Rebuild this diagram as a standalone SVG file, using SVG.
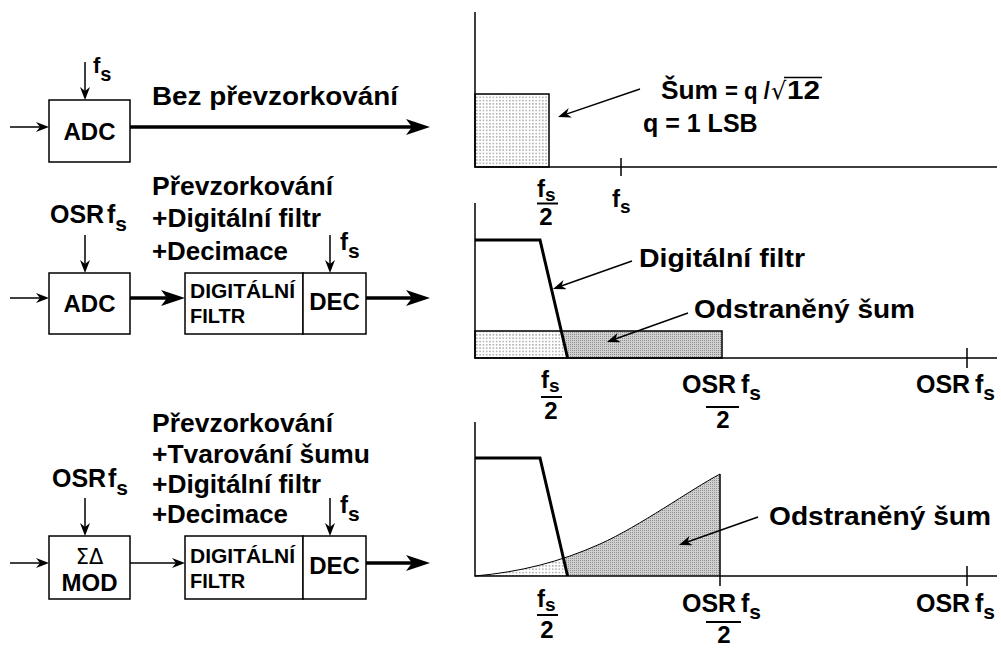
<svg xmlns="http://www.w3.org/2000/svg" width="1001" height="650" viewBox="0 0 1001 650">
<defs>
<style>
.t{font-family:"Liberation Sans",Arial,Helvetica,sans-serif;font-weight:bold;fill:#000}
.b25{font-size:25px}
.b24{font-size:24px}
.b20{font-size:20px}
.mid{text-anchor:middle}
.box{fill:#fff;stroke:#000;stroke-width:1.5}
.ln{stroke:#000;stroke-width:1.5;fill:none}
.th{stroke:#000;stroke-width:3.5;fill:none}
.flt{stroke:#000;stroke-width:3;fill:none}
.ax{stroke:#000;stroke-width:1.5;fill:none}
</style>
<marker id="ah" viewBox="0 0 13 10" refX="5" refY="5" markerWidth="13" markerHeight="10" markerUnits="userSpaceOnUse" orient="auto">
<path d="M0,0 L13,5 L0,10 L4,5 z" fill="#000"/>
</marker>
<marker id="ahb" viewBox="0 0 24 16" refX="8" refY="8" markerWidth="24" markerHeight="16" markerUnits="userSpaceOnUse" orient="auto">
<path d="M0,0 L24,8 L0,16 L6,8 z" fill="#000"/>
</marker>
<pattern id="dots" width="3.3" height="3.3" patternUnits="userSpaceOnUse">
<rect width="3.3" height="3.3" fill="#fff"/>
<rect x="1" y="1" width="1.2" height="1.2" fill="#777"/>
</pattern>
<pattern id="dense" width="2" height="2" patternUnits="userSpaceOnUse">
<rect width="2" height="2" fill="#d0d0d0"/>
<rect width="1" height="1" fill="#909090"/>
</pattern>
<clipPath id="leftMid"><polygon points="470,320 558.7,320 570,368 470,368"/></clipPath>
<clipPath id="leftBot"><polygon points="470,450 538.1,450 570.9,590 470,590"/></clipPath>
</defs>
<rect width="1001" height="650" fill="#fff"/>

<!-- Row 1 -->
<g id="adc1">
<rect class="box" x="49" y="100" width="81" height="62"/>
<text class="t b24 mid" x="89.5" y="140">ADC</text>
</g>
<g id="label-row1">
<text class="t" x="93" y="73" font-size="22">f<tspan font-size="20" dy="8">s</tspan></text>
<text class="t b25" x="152" y="105" textLength="246" lengthAdjust="spacingAndGlyphs">Bez převzorkování</text>
</g>

<!-- Row 2 -->
<g id="adc2">
<rect class="box" x="49" y="273" width="81" height="61"/>
<text class="t b24 mid" x="89.5" y="312">ADC</text>
</g>
<g id="filt2">
<rect class="box" x="185" y="273" width="118" height="61"/>
<text class="t b20" x="190" y="298" textLength="105" lengthAdjust="spacingAndGlyphs">DIGITÁLNÍ</text>
<text class="t b20" x="190" y="323">FILTR</text>
</g>
<g id="dec2">
<rect class="box" x="303" y="273" width="63" height="61"/>
<text class="t b24 mid" x="334.5" y="310">DEC</text>
</g>
<g id="label-row2">
<text class="t b25" x="50" y="223">OSR</text>
<text class="t" x="107" y="223" font-size="25">f<tspan font-size="21" dy="8">s</tspan></text>
<text class="t" x="340" y="250" font-size="24">f<tspan font-size="21" dy="8">s</tspan></text>
<text class="t b25" x="152" y="195" textLength="181" lengthAdjust="spacingAndGlyphs">Převzorkování</text>
<text class="t b25" x="152" y="227" textLength="169" lengthAdjust="spacingAndGlyphs">+Digitální filtr</text>
<text class="t b25" x="152" y="260" textLength="136" lengthAdjust="spacingAndGlyphs">+Decimace</text>
</g>

<!-- Row 3 -->
<g id="mod3">
<rect class="box" x="49" y="536" width="81" height="63"/>
<text x="89.5" y="564" font-family="'DejaVu Sans','Liberation Sans',sans-serif" font-size="21" text-anchor="middle">ΣΔ</text>
<text class="t b24 mid" x="89.5" y="591">MOD</text>
</g>
<g id="filt3">
<rect class="box" x="185" y="536" width="118" height="63"/>
<text class="t b20" x="190" y="563" textLength="105" lengthAdjust="spacingAndGlyphs">DIGITÁLNÍ</text>
<text class="t b20" x="190" y="588">FILTR</text>
</g>
<g id="dec3">
<rect class="box" x="303" y="536" width="63" height="63"/>
<text class="t b24 mid" x="334.5" y="574">DEC</text>
</g>
<g id="label-row3">
<text class="t b25" x="52" y="487">OSR</text>
<text class="t" x="108" y="487" font-size="25">f<tspan font-size="21" dy="8">s</tspan></text>
<text class="t" x="340" y="513" font-size="24">f<tspan font-size="21" dy="8">s</tspan></text>
<text class="t b25" x="152" y="432" textLength="181" lengthAdjust="spacingAndGlyphs">Převzorkování</text>
<text class="t b25" x="152" y="463" textLength="218" lengthAdjust="spacingAndGlyphs">+Tvarování šumu</text>
<text class="t b25" x="152" y="493" textLength="169" lengthAdjust="spacingAndGlyphs">+Digitální filtr</text>
<text class="t b25" x="152" y="523" textLength="136" lengthAdjust="spacingAndGlyphs">+Decimace</text>
</g>

<!-- Chart 1 -->
<g id="chart1">
<rect x="475" y="94" width="74" height="73" fill="url(#dots)" stroke="#000" stroke-width="1.5"/>
<polyline class="ax" points="475,12 475,167 997,167"/>
<line class="ax" x1="621" y1="158" x2="621" y2="176"/>
<text class="t" x="661" y="99" font-size="26" textLength="57" lengthAdjust="spacingAndGlyphs">Šum</text>
<text class="t" x="725" y="99" font-size="23" textLength="45" lengthAdjust="spacingAndGlyphs">= q /</text>
<text x="771" y="99" font-family="'DejaVu Sans','Liberation Sans',sans-serif" font-size="24">√</text>
<line class="ln" x1="784" y1="77.5" x2="822" y2="77.5"/>
<text class="t b25" x="787" y="99" textLength="33" lengthAdjust="spacingAndGlyphs">12</text>
<text class="t b25" x="643" y="132">q = 1 LSB</text>
<text class="t" x="537" y="197" font-size="24">f<tspan font-size="19" dy="4">s</tspan></text>
<line x1="537" y1="203.5" x2="558" y2="203.5" stroke="#000" stroke-width="2"/>
<text class="t mid" x="546" y="225" font-size="24">2</text>
<text class="t" x="612" y="207" font-size="24">f<tspan font-size="19" dy="6">s</tspan></text>
</g>

<!-- Chart 2 -->
<g id="chart2">
<rect x="475" y="331" width="247" height="27" fill="url(#dense)"/>
<rect x="475" y="331" width="247" height="27" fill="url(#dots)" clip-path="url(#leftMid)"/>
<rect x="475" y="331" width="247" height="27" fill="none" stroke="#000" stroke-width="1.5"/>
<polyline class="ax" points="475,203 475,358 997,358"/>
<line class="ax" x1="967" y1="348" x2="967" y2="368"/>
<polyline class="flt" points="475,240 540,240 567.6,358"/>
<text class="t b25" x="639" y="267" textLength="166" lengthAdjust="spacingAndGlyphs">Digitální filtr</text>
<text class="t b25" x="694" y="318" textLength="221" lengthAdjust="spacingAndGlyphs">Odstraněný šum</text>
<text class="t" x="541" y="388" font-size="24">f<tspan font-size="19" dy="4">s</tspan></text>
<line x1="541" y1="397" x2="562" y2="397" stroke="#000" stroke-width="2"/>
<text class="t mid" x="551" y="419" font-size="24">2</text>
<text class="t b25" x="682" y="393">OSR</text>
<text class="t" x="741" y="393" font-size="25">f<tspan font-size="21" dy="7">s</tspan></text>
<line x1="706" y1="407" x2="739" y2="407" stroke="#000" stroke-width="2"/>
<text class="t mid" x="723" y="428" font-size="24">2</text>
<text class="t b25" x="916" y="393">OSR</text>
<text class="t" x="975" y="393" font-size="25">f<tspan font-size="21" dy="7">s</tspan></text>
</g>

<!-- Chart 3 -->
<g id="chart3">
<path d="M475,576 C520,572 560,562 600,544 C640,526 690,490 720,474 L720,576 Z" fill="url(#dense)"/>
<path d="M475,576 C520,572 560,562 600,544 C640,526 690,490 720,474 L720,576 Z" fill="url(#dots)" clip-path="url(#leftBot)"/>
<path d="M475,576 C520,572 560,562 600,544 C640,526 690,490 720,474" fill="none" stroke="#000" stroke-width="1"/>
<line class="ax" x1="720" y1="474" x2="720" y2="586"/>
<polyline class="ax" points="475,422 475,576 997,576"/>
<line class="ax" x1="967" y1="566" x2="967" y2="586"/>
<polyline class="flt" points="475,458 540,458 567.6,576"/>
<text class="t b25" x="769" y="525" textLength="222" lengthAdjust="spacingAndGlyphs">Odstraněný šum</text>
<text class="t" x="537" y="607" font-size="24">f<tspan font-size="19" dy="4">s</tspan></text>
<line x1="537" y1="615" x2="558" y2="615" stroke="#000" stroke-width="2"/>
<text class="t mid" x="547" y="638" font-size="24">2</text>
<text class="t b25" x="682" y="612">OSR</text>
<text class="t" x="741" y="612" font-size="25">f<tspan font-size="21" dy="7">s</tspan></text>
<line x1="706" y1="622" x2="741" y2="622" stroke="#000" stroke-width="2"/>
<text class="t mid" x="724" y="643" font-size="24">2</text>
<text class="t b25" x="916" y="612">OSR</text>
<text class="t" x="975" y="612" font-size="25">f<tspan font-size="21" dy="7">s</tspan></text>
</g>

<!-- Connectors -->
<g id="connectors">
<line class="ln" x1="10" y1="127" x2="41" y2="127" marker-end="url(#ah)"/>
<line class="ln" x1="85" y1="62" x2="85" y2="92" marker-end="url(#ah)"/>
<line class="th" x1="130" y1="127" x2="414" y2="127" marker-end="url(#ahb)"/>

<line class="ln" x1="10" y1="298" x2="41" y2="298" marker-end="url(#ah)"/>
<line class="ln" x1="85" y1="235" x2="85" y2="265" marker-end="url(#ah)"/>
<line class="th" x1="130" y1="298" x2="169" y2="298" marker-end="url(#ahb)"/>
<line class="ln" x1="330" y1="235" x2="330" y2="265" marker-end="url(#ah)"/>
<line class="th" x1="366" y1="298" x2="414" y2="298" marker-end="url(#ahb)"/>

<line class="ln" x1="10" y1="563" x2="41" y2="563" marker-end="url(#ah)"/>
<line class="ln" x1="85" y1="498" x2="85" y2="528" marker-end="url(#ah)"/>
<line class="ln" x1="130" y1="563" x2="177" y2="563" marker-end="url(#ah)"/>
<line class="ln" x1="330" y1="498" x2="330" y2="528" marker-end="url(#ah)"/>
<line class="th" x1="366" y1="563" x2="414" y2="563" marker-end="url(#ahb)"/>

<line class="ln" x1="640" y1="89" x2="565.6" y2="114.4" marker-end="url(#ah)"/>
<line class="ln" x1="632" y1="261" x2="560.5" y2="286.3" marker-end="url(#ah)"/>
<line class="ln" x1="688" y1="313" x2="614.5" y2="339.3" marker-end="url(#ah)"/>
<line class="ln" x1="758" y1="517" x2="686.5" y2="542.3" marker-end="url(#ah)"/>
</g>
</svg>
